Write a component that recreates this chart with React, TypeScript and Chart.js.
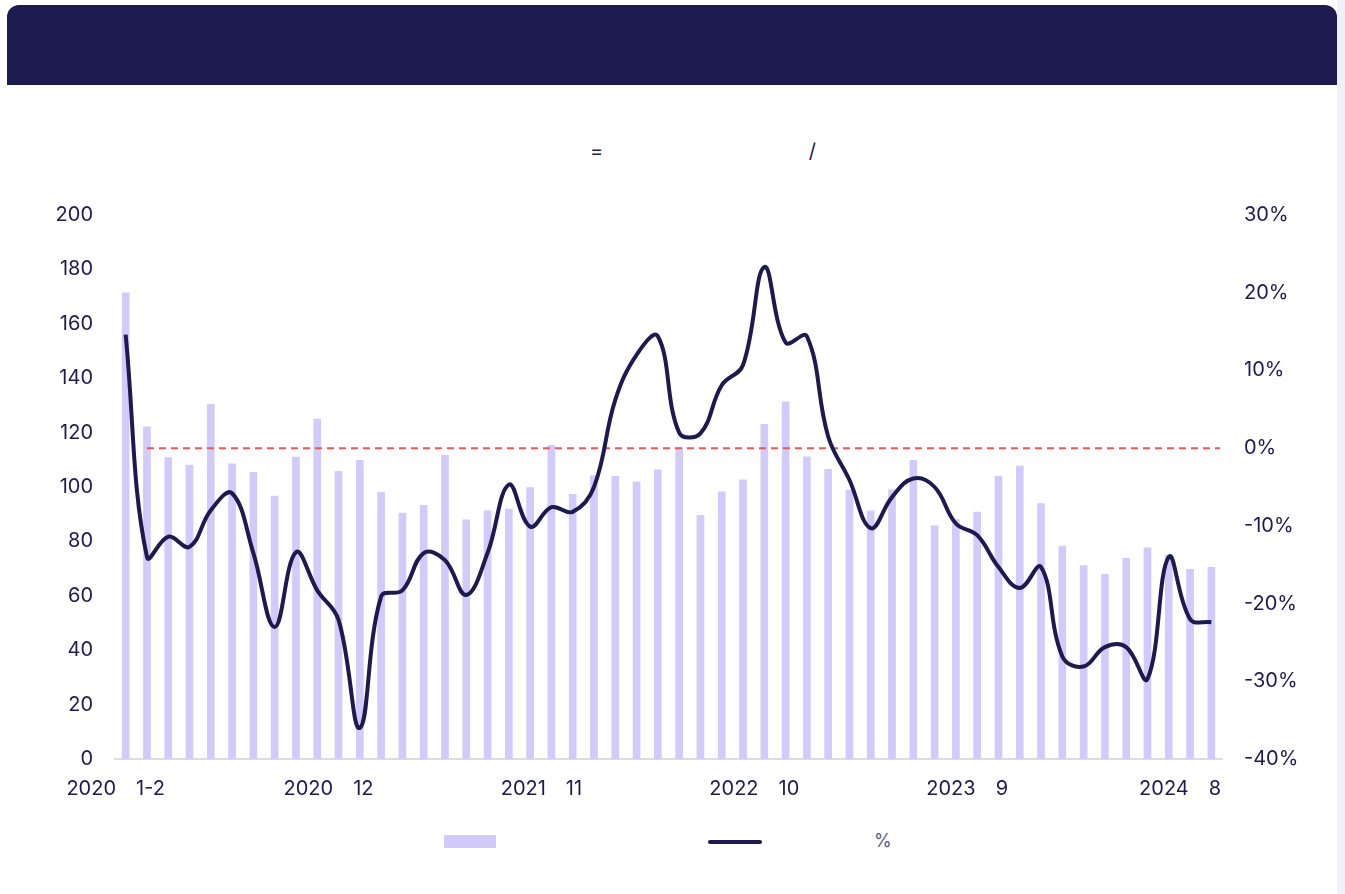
import React, { useEffect, useRef } from "react";
import { Chart, registerables } from "chart.js";

Chart.register(...registerables);

// CJK characters in the source render as blanks; ideographic spaces keep their width.
const categories = [
  "2020\u30001-2\u3000", "2020\u30003\u3000", "2020\u30004\u3000", "2020\u30005\u3000", "2020\u30006\u3000", "2020\u30007\u3000",
  "2020\u30008\u3000", "2020\u30009\u3000", "2020\u300010\u3000", "2020\u300011\u3000", "2020\u300012\u3000",
  "2021\u30001-2\u3000", "2021\u30003\u3000", "2021\u30004\u3000", "2021\u30005\u3000", "2021\u30006\u3000", "2021\u30007\u3000",
  "2021\u30008\u3000", "2021\u30009\u3000", "2021\u300010\u3000", "2021\u300011\u3000", "2021\u300012\u3000",
  "2022\u30001-2\u3000", "2022\u30003\u3000", "2022\u30004\u3000", "2022\u30005\u3000", "2022\u30006\u3000", "2022\u30007\u3000",
  "2022\u30008\u3000", "2022\u30009\u3000", "2022\u300010\u3000", "2022\u300011\u3000", "2022\u300012\u3000",
  "2023\u30001-2\u3000", "2023\u30003\u3000", "2023\u30004\u3000", "2023\u30005\u3000", "2023\u30006\u3000", "2023\u30007\u3000",
  "2023\u30008\u3000", "2023\u30009\u3000", "2023\u300010\u3000", "2023\u300011\u3000", "2023\u300012\u3000",
  "2024\u30001-2\u3000", "2024\u30003\u3000", "2024\u30004\u3000", "2024\u30005\u3000", "2024\u30006\u3000", "2024\u30007\u3000",
  "2024\u30008\u3000", "2024\u30009\u3000",
];

const barValues = [
  171.4, 122.1, 110.8, 108.1, 130.4, 108.5, 105.4, 96.7, 111.0, 125.0,
  105.8, 109.8, 98.0, 90.4, 93.3, 111.6, 87.9, 91.2, 91.9, 99.8,
  115.3, 97.3, 104.2, 103.9, 101.8, 106.3, 114.5, 89.6, 98.2, 102.6,
  123.0, 131.3, 111.1, 106.5, 98.9, 91.2, 99.0, 109.8, 85.7, 88.0,
  90.8, 104.0, 107.7, 93.9, 78.3, 71.1, 67.9, 73.8, 77.6, 75.0,
  69.7, 70.5,
];

const growthValues = [
  14.6, -14.0, -11.4, -12.7, -8.0, -5.8, -13.5, -23.0, -13.4, -18.3,
  -22.1, -36.0, -19.1, -18.3, -13.5, -14.4, -18.9, -13.5, -4.7, -10.1,
  -7.6, -8.2, -5.0, 6.2, 12.0, 14.4, 2.0, 1.9, 8.1, 10.7,
  23.3, 13.6, 14.4, 1.5, -4.1, -10.3, -6.3, -3.9, -5.0, -9.7,
  -11.2, -15.3, -18.0, -15.3, -26.8, -28.1, -25.6, -25.6, -29.7, -14.0,
  -22.0, -22.4,
];

const leftTicks = [0, 20, 40, 60, 80, 100, 120, 140, 160, 180, 200];
const rightTicks = [-40, -30, -20, -10, 0, 10, 20, 30];
const referenceValue = 0;

const NAVY = "#1c1a4f";
const BAR = "#d1cafa";
const FONT = "Inter, 'Noto Sans', sans-serif";

const refLinePlugin = {
  id: "refLine",
  afterDatasetDraw(chart: any, args: any) {
    if (args.meta.type !== "bar") return;
    const { ctx, chartArea, scales } = chart;
    const y = scales.y1.getPixelForValue(referenceValue);
    const x0 = scales.x.getPixelForValue(1);
    ctx.save();
    ctx.strokeStyle = "#f25454";
    ctx.lineWidth = 2;
    ctx.setLineDash([7, 5]);
    ctx.beginPath();
    ctx.moveTo(x0, y);
    ctx.lineTo(chartArea.right - 2, y);
    ctx.stroke();
    ctx.restore();
  },
};

export default function App() {
  const ref = useRef<HTMLCanvasElement | null>(null);

  useEffect(() => {
    if (!ref.current) return;
    const chart = new Chart(ref.current, {
      type: "bar",
      data: {
        labels: categories,
        datasets: [
          {
            type: "line",
            label: "%",
            data: growthValues,
            yAxisID: "y1",
            borderColor: NAVY,
            borderWidth: 4,
            tension: 0.4,
            pointRadius: 0,
            fill: false,
            order: 0,
          } as any,
          {
            type: "bar",
            label: "",
            data: barValues,
            yAxisID: "y",
            backgroundColor: BAR,
            barThickness: 7,
            order: 2,
          } as any,
        ],
      },
      options: {
        responsive: false,
        maintainAspectRatio: false,
        animation: false,
        layout: { padding: { top: 0, left: 0, right: 0, bottom: 0 } },
        plugins: {
          legend: { display: false },
          tooltip: { enabled: false },
        },
        scales: {
          x: {
            grid: { display: false, drawTicks: false },
            border: { display: true, color: "#dddddd", width: 2 },
            ticks: {
              autoSkip: false,
              maxRotation: 0,
              minRotation: 0,
              padding: 18,
              color: NAVY,
              font: { family: FONT, size: 20 },
              callback: (_v: any, i: number) => (i % 10 === 0 ? categories[i] : null),
            },
            afterFit: (s: any) => {
              s.height = 50;
            },
          },
          y: {
            position: "left",
            min: leftTicks[0],
            max: leftTicks[leftTicks.length - 1],
            afterBuildTicks: (s: any) => {
              s.ticks = leftTicks.map((v) => ({ value: v }));
            },
            grid: { display: false, drawTicks: false },
            border: { display: false },
            ticks: { padding: 22, color: NAVY, font: { family: FONT, size: 20 } },
            afterFit: (s: any) => {
              s.width = 115;
            },
          },
          y1: {
            position: "right",
            min: rightTicks[0],
            max: rightTicks[rightTicks.length - 1],
            afterBuildTicks: (s: any) => {
              s.ticks = rightTicks.map((v) => ({ value: v }));
            },
            grid: { display: false, drawTicks: false },
            border: { display: false },
            ticks: {
              padding: 22,
              color: NAVY,
              font: { family: FONT, size: 20 },
              callback: (v: any) => v + "%",
            },
            afterFit: (s: any) => {
              s.width = 123;
            },
          },
        },
      },
      plugins: [refLinePlugin],
    });
    return () => chart.destroy();
  }, []);

  return (
    <div
      style={{
        position: "fixed",
        left: 0,
        top: 0,
        width: 1345,
        height: 894,
        background: "#ffffff",
        overflow: "hidden",
        fontFamily: FONT,
      }}
    >
      <div style={{ position: "absolute", left: 1337, top: 0, width: 8, height: 894, background: "#f0f0f9" }} />
      <div
        style={{
          position: "absolute",
          left: 7,
          top: 5,
          width: 1330,
          height: 960,
          background: "#ffffff",
          borderRadius: "12px 12px 0 0",
        }}
      >
        <div
          style={{
            height: 80,
            background: NAVY,
            borderRadius: "12px 12px 0 0",
          }}
        />
      </div>
      <div
        style={{
          position: "absolute",
          left: 510,
          top: 139,
          fontSize: 20,
          lineHeight: "24px",
          color: NAVY,
          whiteSpace: "pre",
        }}
      >
        {"\u3000\u3000\u3000\u3000= \u3000\u3000\u3000\u3000\u3000\u3000\u3000\u3000\u3000\u3000/\u3000"}
      </div>
      <canvas
        ref={ref}
        width={1345}
        height={628}
        style={{ position: "absolute", left: 0, top: 181, width: 1345, height: 628 }}
      />
      <div style={{ position: "absolute", left: 444, top: 835, width: 52, height: 13, background: BAR }} />
      <div
        style={{ position: "absolute", left: 708, top: 840, width: 54, height: 4, borderRadius: 2, background: NAVY }}
      />
      <div
        style={{
          position: "absolute",
          left: 874,
          top: 830,
          fontSize: 18,
          lineHeight: "22px",
          color: "#5d5c88",
          whiteSpace: "pre",
        }}
      >
        {"%"}
      </div>
    </div>
  );
}
